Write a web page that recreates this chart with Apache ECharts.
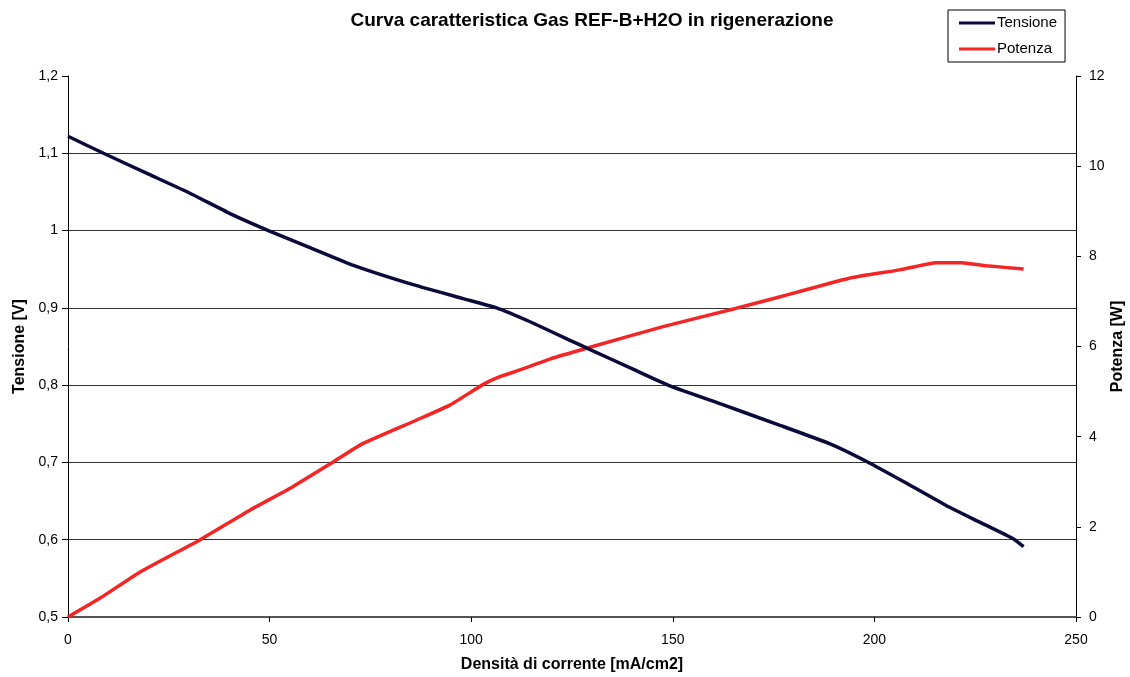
<!DOCTYPE html>
<html><head><meta charset="utf-8">
<script src="https://cdn.jsdelivr.net/npm/echarts@6/dist/echarts.min.js"></script>
<style>html,body{margin:0;padding:0;background:#fff}#c{width:1130px;height:677px}</style>
</head><body><div id="c"></div>
<script>
const titleText = 'Curva caratteristica Gas REF-B+H2O in rigenerazione';
const xName = 'Densità di corrente [mA/cm2]';
const yLeftName = 'Tensione [V]';
const yRightName = 'Potenza [W]';
const seriesNames = ['Tensione', 'Potenza'];

const tensioneX = [0, 8.8, 20, 30, 40.2, 49.7, 60, 70.8, 85.6, 98, 106.3, 114.6, 124.5, 129.5, 140, 149.3, 161.7, 176.6, 189, 198.9, 208, 217.9, 226, 234.5, 237];
const tensioneY = [1.122, 1.1, 1.073, 1.049, 1.022, 1.0, 0.978, 0.955, 0.930, 0.912, 0.9, 0.882, 0.858, 0.846, 0.821, 0.799, 0.776, 0.748, 0.724, 0.699, 0.673, 0.644, 0.623, 0.601, 0.591];

const potenzaX = [0, 8, 17.9, 32.7, 45.1, 55, 65.8, 73.2, 86.5, 94.7, 103, 107.1, 112.1, 119.5, 128.6, 147.6, 165.8, 175.7, 181.5, 194, 206.3, 215.4, 221.6, 227.8, 237];
const potenzaY = [0, 0.42, 1.0, 1.71, 2.37, 2.85, 3.44, 3.85, 4.37, 4.70, 5.16, 5.33, 5.48, 5.72, 5.96, 6.44, 6.85, 7.08, 7.22, 7.52, 7.70, 7.86, 7.86, 7.79, 7.72];

const zip = (a, b) => a.map((v, i) => [v, b[i]]);
const font = 'Liberation Sans, Arial, sans-serif';

const chart = echarts.init(document.getElementById('c'));
chart.setOption({
  animation: false,
  title: {
    text: titleText, left: 587, top: 6, textAlign: 'center',
    textStyle: {fontFamily: font, fontSize: 19, fontWeight: 'bold', color: '#000'}
  },
  legend: {
    left: 948, top: 10, orient: 'vertical',
    borderColor: '#000', borderWidth: 1, padding: [4, 8, 4, 11], itemGap: 8,
    itemWidth: 36, itemHeight: 3, icon: 'rect',
    textStyle: {fontFamily: font, fontSize: 15, color: '#000', lineHeight: 18, padding: [0, 0, 0, -3]},
    data: seriesNames
  },
  grid: {left: 68, right: 54, top: 76, bottom: 60, outerBoundsMode: 'none'},
  xAxis: {
    type: 'value', min: 0, max: 250, interval: 50,
    name: xName, nameLocation: 'middle', nameGap: 40, nameMoveOverlap: false,
    nameTextStyle: {fontFamily: font, fontSize: 16, fontWeight: 'bold', color: '#000'},
    axisLine: {show: true, lineStyle: {color: '#555', width: 2}},
    axisTick: {show: true, inside: false, length: 5, lineStyle: {color: '#000'}},
    axisLabel: {fontFamily: font, fontSize: 14, color: '#000', margin: 16},
    splitLine: {show: false}
  },
  yAxis: [{
    type: 'value', min: 0.5, max: 1.2, interval: 0.1,
    name: yLeftName, nameLocation: 'middle', nameGap: 40, nameRotate: 90, nameMoveOverlap: false,
    nameTextStyle: {fontFamily: font, fontSize: 16, fontWeight: 'bold', color: '#000'},
    axisLine: {show: true, lineStyle: {color: '#000', width: 1}},
    axisTick: {show: true, length: 6, lineStyle: {color: '#000'}},
    axisLabel: {fontFamily: font, fontSize: 14, color: '#000', margin: 10,
      formatter: v => String(Math.round(v * 10) / 10).replace('.', ',')},
    splitLine: {show: true, showMinLine: false, showMaxLine: false, lineStyle: {color: '#333', width: 1}}
  }, {
    type: 'value', min: 0, max: 12, interval: 2, position: 'right',
    name: yRightName, nameLocation: 'middle', nameGap: 34, nameRotate: 90, nameMoveOverlap: false,
    nameTextStyle: {fontFamily: font, fontSize: 16, fontWeight: 'bold', color: '#000'},
    axisLine: {show: true, lineStyle: {color: '#000', width: 1}},
    axisTick: {show: true, length: 5, lineStyle: {color: '#000'}},
    axisLabel: {fontFamily: font, fontSize: 14, color: '#000', margin: 13},
    splitLine: {show: false}
  }],
  series: [{
    name: seriesNames[0], type: 'line', yAxisIndex: 0, data: zip(tensioneX, tensioneY),
    showSymbol: false, symbol: 'none', smooth: 0.15, z: 3,
    lineStyle: {color: '#0b0b3b', width: 3.5}, itemStyle: {color: '#0b0b3b'}
  }, {
    name: seriesNames[1], type: 'line', yAxisIndex: 1, data: zip(potenzaX, potenzaY),
    showSymbol: false, symbol: 'none', smooth: 0.15, z: 2,
    lineStyle: {color: '#f42525', width: 3.5}, itemStyle: {color: '#f42525'}
  }]
});
</script></body></html>
